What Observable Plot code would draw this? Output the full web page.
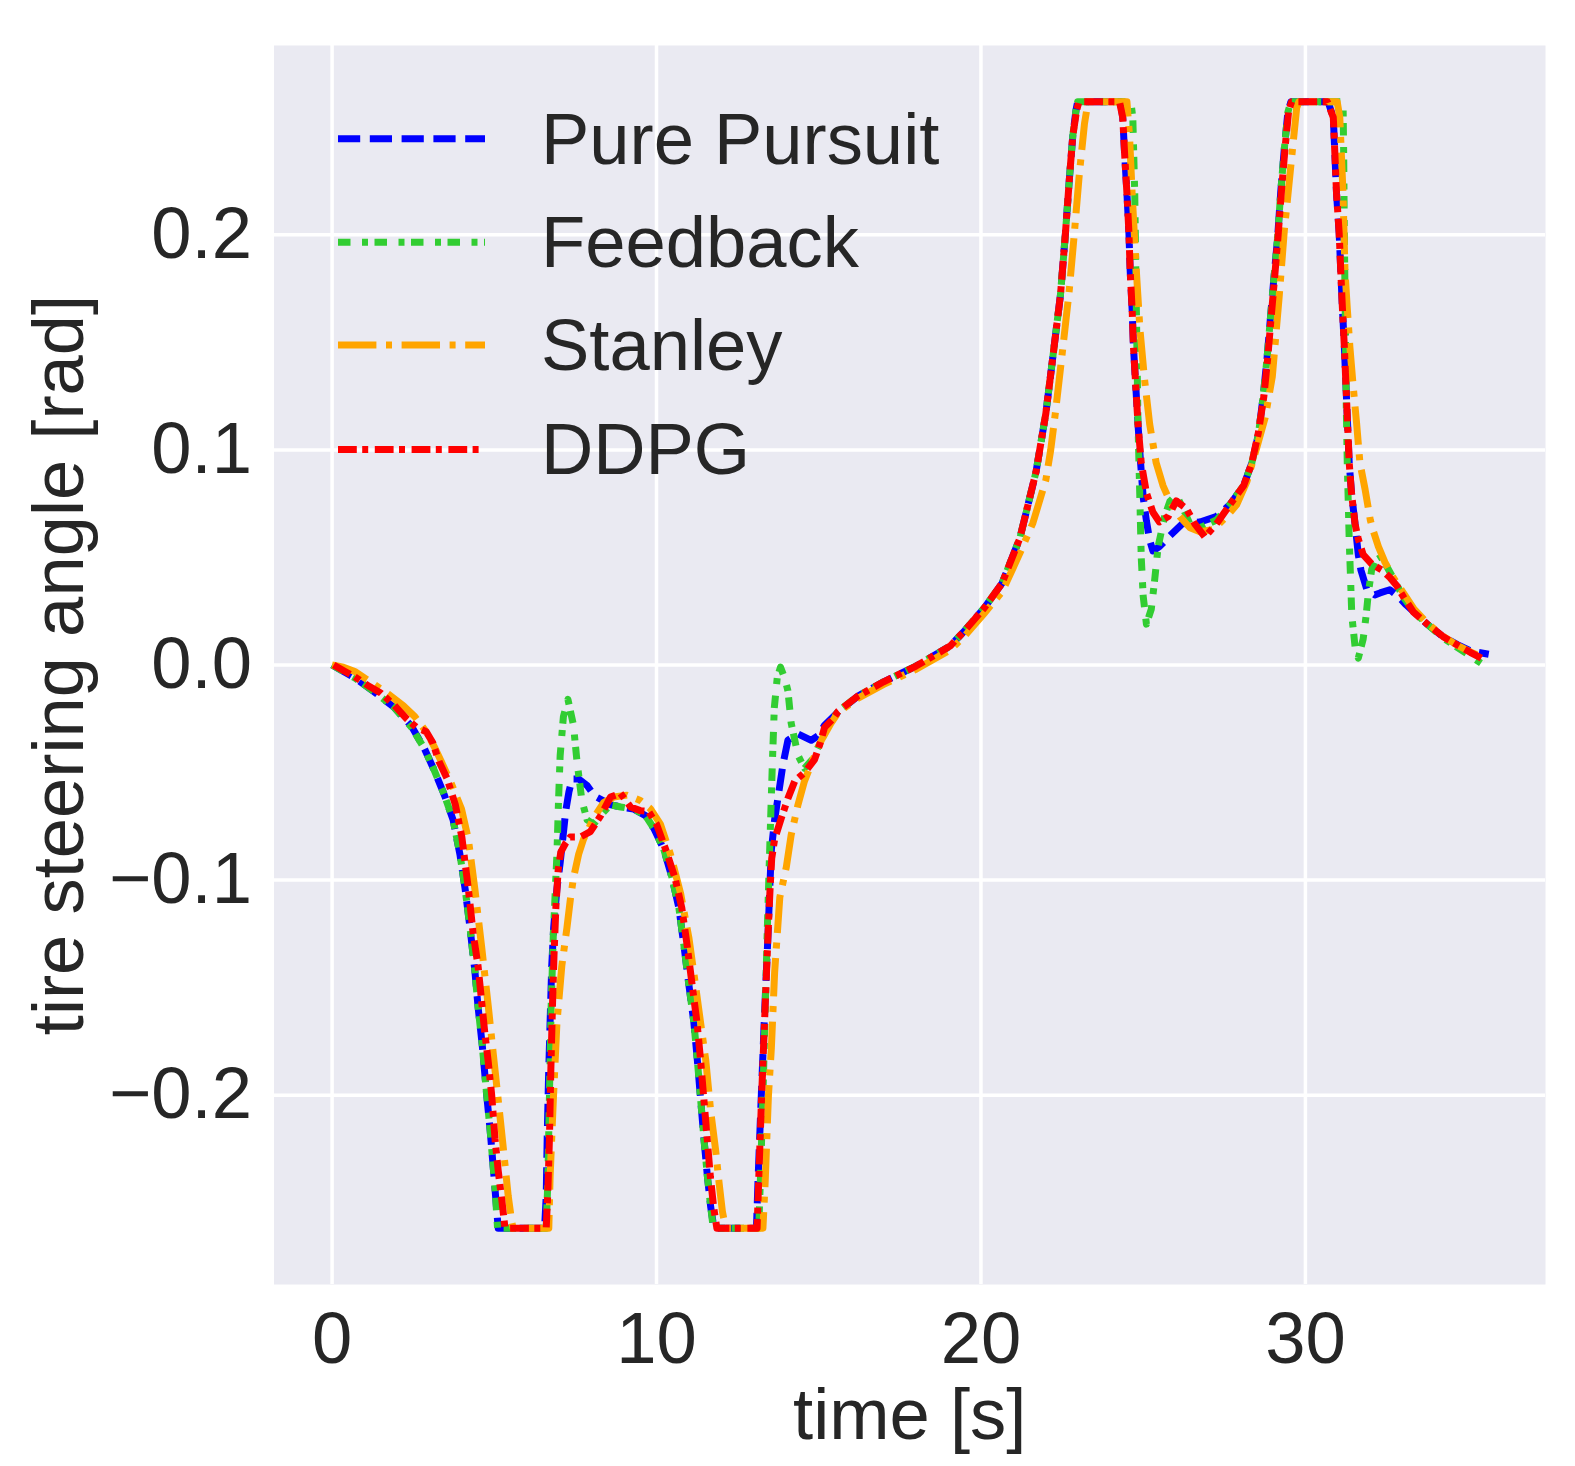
<!DOCTYPE html>
<html>
<head>
<meta charset="utf-8">
<script src="https://cdn.jsdelivr.net/npm/d3@7"></script>
<script src="https://cdn.jsdelivr.net/npm/@observablehq/plot@0.6"></script>
<style>
  html, body { margin: 0; background: white; overflow: hidden; }
  #chart svg { max-width: none; display: block; }
</style>
</head>
<body>
<div id="chart"></div>
<script>
// series names (legend order)
const methods = ["Pure Pursuit", "Feedback", "Stanley", "DDPG"]

// [time s, tire steering angle rad]
const purePursuit = [
  [0,0],[0.7,-0.006],[1.3,-0.0125],[1.9,-0.0195],[2.45,-0.0285],[2.85,-0.039],[3.15,-0.049],[3.45,-0.06],[3.73,-0.072],[3.94,-0.088],[4.1,-0.104],[4.25,-0.122],[4.4,-0.142],[4.5,-0.159],[4.63,-0.177],[4.76,-0.199],[4.87,-0.216],[4.97,-0.234],[5.04,-0.247],[5.12,-0.2618],
  [6.55,-0.2618],[6.6,-0.247],[6.63,-0.22],[6.67,-0.193],[6.72,-0.166],[6.77,-0.14],[6.83,-0.122],[6.93,-0.104],[7.03,-0.092],[7.13,-0.078],[7.2,-0.068],[7.3,-0.059],[7.4,-0.053],[7.6,-0.053],[7.86,-0.056],[8.1,-0.061],[8.6,-0.065],[8.9,-0.066],[9.3,-0.067],[9.66,-0.07],[9.92,-0.076],[10.23,-0.086],[10.48,-0.099],[10.69,-0.113],[10.85,-0.131],[11.0,-0.149],[11.15,-0.166],[11.26,-0.184],[11.36,-0.202],[11.46,-0.22],[11.57,-0.238],[11.67,-0.252],[11.77,-0.2618],
  [13.08,-0.2618],[13.13,-0.239],[13.23,-0.2],[13.33,-0.162],[13.44,-0.124],[13.49,-0.104],[13.54,-0.086],[13.64,-0.072],[13.74,-0.062],[13.9,-0.046],[14.05,-0.035],[14.36,-0.032],[14.77,-0.035],[14.97,-0.033],[15.18,-0.028],[15.59,-0.022],[16.2,-0.0145],[17.0,-0.0078],[18.0,-0.0005],[19.05,0.0088],[19.5,0.016],[20.1,0.0265],[20.65,0.038],[21.2,0.059],[21.7,0.09],[22.0,0.117],[22.23,0.145],[22.45,0.172],[22.6,0.2],[22.72,0.225],[22.83,0.246],[22.93,0.258],[22.98,0.2618],
  [24.3,0.2618],[24.37,0.2545],[24.43,0.237],[24.5,0.219],[24.56,0.201],[24.6,0.183],[24.66,0.165],[24.7,0.148],[24.77,0.13],[24.84,0.112],[24.92,0.094],[25.0,0.078],[25.1,0.067],[25.2,0.058],[25.3,0.053],[25.5,0.055],[25.82,0.06],[26.2,0.0656],[26.75,0.0665],[27.25,0.069],[27.67,0.0745],[28.1,0.0835],[28.35,0.094],[28.55,0.107],[28.7,0.125],[28.82,0.143],[28.92,0.161],[29.03,0.18],[29.14,0.198],[29.24,0.22],[29.35,0.24],[29.46,0.257],[29.55,0.2618],
  [30.7,0.2618],[30.86,0.2545],[30.91,0.237],[30.96,0.219],[31.04,0.201],[31.09,0.183],[31.14,0.166],[31.2,0.148],[31.25,0.13],[31.3,0.112],[31.35,0.094],[31.42,0.08],[31.53,0.0656],[31.63,0.0513],[31.71,0.0442],[31.89,0.0353],[32.14,0.0326],[32.3,0.0335],[32.6,0.035],[32.85,0.032],[33.1,0.028],[33.35,0.0246],[33.75,0.019],[34.25,0.013],[34.7,0.0094],[35.1,0.0065],[35.65,0.005]
]

const feedback = [
  [0,0],[0.7,-0.006],[1.3,-0.0125],[1.9,-0.0195],[2.45,-0.029],[2.85,-0.039],[3.15,-0.049],[3.45,-0.06],[3.73,-0.072],[3.94,-0.088],[4.1,-0.104],[4.25,-0.122],[4.4,-0.142],[4.5,-0.159],[4.63,-0.177],[4.76,-0.199],[4.87,-0.216],[4.97,-0.234],[5.04,-0.247],[5.1,-0.2618],
  [6.6,-0.2618],[6.65,-0.24],[6.7,-0.2],[6.75,-0.16],[6.82,-0.125],[6.93,-0.088],[6.98,-0.063],[7.03,-0.042],[7.13,-0.024],[7.27,-0.016],[7.44,-0.028],[7.55,-0.045],[7.7,-0.063],[7.86,-0.072],[8.06,-0.074],[8.27,-0.07],[8.58,-0.065],[8.9,-0.066],[9.3,-0.067],[9.66,-0.07],[9.92,-0.076],[10.23,-0.086],[10.48,-0.099],[10.69,-0.113],[10.85,-0.131],[11.0,-0.149],[11.15,-0.166],[11.26,-0.184],[11.36,-0.202],[11.46,-0.22],[11.57,-0.238],[11.67,-0.252],[11.75,-0.2618],
  [13.15,-0.2618],[13.2,-0.24],[13.28,-0.2],[13.35,-0.16],[13.42,-0.12],[13.49,-0.085],[13.57,-0.046],[13.63,-0.02],[13.72,-0.006],[13.82,-0.001],[13.95,-0.006],[14.05,-0.012],[14.15,-0.027],[14.36,-0.042],[14.56,-0.048],[14.8,-0.044],[15.05,-0.036],[15.3,-0.028],[15.6,-0.0215],[16.2,-0.0145],[17.0,-0.0078],[18.0,-0.0005],[19.05,0.0088],[19.5,0.016],[20.1,0.0265],[20.65,0.038],[21.2,0.059],[21.7,0.09],[22.0,0.117],[22.23,0.145],[22.45,0.172],[22.6,0.2],[22.72,0.225],[22.83,0.246],[22.93,0.258],[22.98,0.2618],
  [24.62,0.2618],[24.68,0.2545],[24.74,0.219],[24.79,0.165],[24.84,0.112],[24.9,0.076],[24.94,0.05],[25.0,0.032],[25.1,0.019],[25.25,0.026],[25.35,0.039],[25.46,0.055],[25.66,0.069],[25.82,0.076],[26.02,0.079],[26.23,0.0727],[26.44,0.0656],[26.75,0.0638],[27.26,0.0674],[27.67,0.0745],[28.1,0.0835],[28.35,0.094],[28.55,0.107],[28.7,0.125],[28.82,0.143],[28.92,0.161],[29.03,0.18],[29.14,0.198],[29.24,0.22],[29.35,0.24],[29.46,0.257],[29.55,0.2618],
  [31.16,0.2618],[31.18,0.237],[31.2,0.2],[31.23,0.16],[31.26,0.12],[31.29,0.094],[31.32,0.076],[31.35,0.058],[31.39,0.041],[31.43,0.023],[31.53,0.0086],[31.63,0.0032],[31.78,0.012],[31.87,0.0228],[31.94,0.0335],[32.04,0.0442],[32.25,0.052],[32.5,0.046],[32.7,0.0406],[33.0,0.032],[33.35,0.0246],[33.75,0.019],[34.25,0.0125],[34.7,0.008],[35.1,0.004],[35.55,-0.0005]
]

const stanley = [
  [0,0],[0.35,-0.001],[0.7,-0.003],[1.2,-0.008],[1.72,-0.0134],[2.2,-0.019],[2.55,-0.024],[2.9,-0.031],[3.15,-0.038],[3.37,-0.045],[3.7,-0.056],[3.99,-0.067],[4.2,-0.081],[4.4,-0.104],[4.61,-0.131],[4.81,-0.158],[4.97,-0.181],[5.12,-0.202],[5.28,-0.225],[5.43,-0.247],[5.54,-0.259],[5.58,-0.2618],
  [6.68,-0.2618],[6.72,-0.238],[6.82,-0.202],[6.93,-0.1665],[7.08,-0.14],[7.24,-0.122],[7.34,-0.1095],[7.44,-0.099],[7.6,-0.088],[7.75,-0.081],[8.06,-0.0712],[8.37,-0.064],[8.68,-0.0614],[9.09,-0.0605],[9.5,-0.063],[9.81,-0.0668],[10.12,-0.074],[10.43,-0.088],[10.74,-0.106],[11.0,-0.127],[11.2,-0.1487],[11.36,-0.1665],[11.52,-0.184],[11.67,-0.2075],[11.82,-0.2253],[11.93,-0.241],[12.03,-0.254],[12.13,-0.2618],
  [13.28,-0.2618],[13.35,-0.24],[13.45,-0.2],[13.54,-0.178],[13.64,-0.143],[13.8,-0.108],[14.0,-0.094],[14.15,-0.079],[14.36,-0.065],[14.56,-0.054],[14.82,-0.044],[15.08,-0.035],[15.38,-0.027],[15.6,-0.022],[16.2,-0.0155],[17.0,-0.009],[18.0,-0.002],[19.05,0.007],[19.5,0.0135],[20.1,0.024],[20.65,0.034],[21.2,0.052],[21.6,0.066],[22.0,0.086],[22.15,0.1],[22.3,0.118],[22.52,0.147],[22.72,0.174],[22.88,0.201],[23.03,0.228],[23.19,0.2516],[23.3,0.2618],
  [24.5,0.2618],[24.58,0.2456],[24.66,0.219],[24.79,0.183],[24.9,0.156],[25.04,0.133],[25.2,0.112],[25.4,0.094],[25.61,0.0834],[25.82,0.0763],[26.13,0.069],[26.44,0.0638],[26.75,0.062],[27.16,0.063],[27.57,0.069],[27.88,0.0745],[28.19,0.085],[28.5,0.101],[28.76,0.115],[28.98,0.134],[29.19,0.171],[29.35,0.202],[29.57,0.235],[29.73,0.259],[29.8,0.2618],
  [30.98,0.2618],[31.06,0.2545],[31.16,0.219],[31.22,0.183],[31.29,0.166],[31.37,0.148],[31.47,0.13],[31.58,0.112],[31.68,0.094],[31.84,0.0816],[32.0,0.0674],[32.1,0.062],[32.25,0.055],[32.45,0.0478],[32.71,0.0406],[33.02,0.0335],[33.35,0.026],[33.75,0.0195],[34.25,0.0133],[34.7,0.009],[35.1,0.006],[35.55,0.003]
]

const ddpg = [
  [0.05,0],[0.4,-0.003],[0.7,-0.0055],[1.1,-0.0095],[1.5,-0.013],[1.9,-0.0185],[2.3,-0.025],[2.6,-0.029],[2.9,-0.031],[3.1,-0.036],[3.3,-0.045],[3.55,-0.053],[3.8,-0.065],[4.0,-0.08],[4.2,-0.104],[4.35,-0.125],[4.5,-0.14],[4.58,-0.152],[4.7,-0.17],[4.81,-0.184],[4.92,-0.2],[5.02,-0.22],[5.12,-0.235],[5.23,-0.2485],[5.33,-0.2618],
  [6.6,-0.2618],[6.65,-0.245],[6.7,-0.22],[6.74,-0.19],[6.79,-0.16],[6.84,-0.135],[6.9,-0.112],[6.97,-0.095],[7.05,-0.087],[7.19,-0.083],[7.34,-0.08],[7.65,-0.08],[7.96,-0.0775],[8.27,-0.0703],[8.58,-0.0614],[8.89,-0.0597],[9.2,-0.066],[9.5,-0.0677],[9.75,-0.068],[10.0,-0.074],[10.3,-0.0865],[10.57,-0.099],[10.78,-0.113],[10.95,-0.131],[11.1,-0.149],[11.25,-0.1665],[11.36,-0.184],[11.46,-0.202],[11.56,-0.22],[11.66,-0.238],[11.76,-0.252],[11.86,-0.2618],
  [13.1,-0.2618],[13.15,-0.239],[13.24,-0.2],[13.34,-0.162],[13.44,-0.124],[13.5,-0.104],[13.55,-0.09],[13.64,-0.081],[13.85,-0.071],[14.05,-0.062],[14.26,-0.054],[14.56,-0.05],[14.87,-0.044],[15.03,-0.037],[15.18,-0.029],[15.44,-0.025],[15.6,-0.0215],[16.2,-0.0145],[17.0,-0.0078],[18.0,-0.0005],[19.05,0.0088],[19.5,0.016],[20.1,0.0265],[20.65,0.038],[21.2,0.059],[21.7,0.09],[22.0,0.117],[22.23,0.145],[22.45,0.172],[22.6,0.2],[22.72,0.225],[22.83,0.246],[22.95,0.258],[23.02,0.2618],
  [24.27,0.2618],[24.37,0.2545],[24.43,0.237],[24.5,0.219],[24.56,0.201],[24.6,0.183],[24.66,0.165],[24.7,0.148],[24.77,0.13],[24.84,0.112],[24.94,0.094],[25.1,0.08],[25.3,0.071],[25.5,0.0665],[25.77,0.069],[26.02,0.0763],[26.33,0.0727],[26.59,0.0656],[26.9,0.0595],[27.26,0.0656],[27.67,0.0745],[28.1,0.0835],[28.35,0.094],[28.55,0.108],[28.72,0.125],[28.84,0.143],[28.94,0.161],[29.05,0.18],[29.15,0.198],[29.26,0.22],[29.37,0.24],[29.48,0.257],[29.57,0.2618],
  [30.68,0.2618],[30.86,0.2545],[30.91,0.237],[30.96,0.219],[31.04,0.201],[31.09,0.183],[31.14,0.166],[31.2,0.148],[31.25,0.13],[31.3,0.112],[31.35,0.094],[31.42,0.08],[31.53,0.0656],[31.63,0.0585],[31.78,0.0513],[32.04,0.047],[32.35,0.0442],[32.61,0.0406],[32.81,0.037],[33.02,0.0317],[33.33,0.0246],[33.74,0.0192],[34.26,0.013],[34.67,0.0094],[35.08,0.0059],[35.45,0.003]
]

// axis ticks
const xTicks = [0, 10, 20, 30]
const yTicks = [-0.2, -0.1, 0, 0.1, 0.2]

// line styles (matplotlib-like dash patterns)
const styles = {
  "Pure Pursuit": {stroke: "#0000ff", dash: "22.2,9.6"},
  "Feedback":     {stroke: "#32cd32", dash: "12.5,11.5,6,6.5"},
  "Stanley":      {stroke: "#ffa500", dash: "38.4,9.6,6,9.6"},
  "DDPG":         {stroke: "#ff0000", dash: "18.8,5.4,6,6.6"}
}
const lineWidth = 7

const values = [purePursuit, feedback, stanley, ddpg]
const rows = methods.flatMap((m, i) => values[i].map(([t, v]) => ({method: m, t, v})))

const font = "'Liberation Sans', Arial, sans-serif"
const ink = "#262626"
const fs = 72.4

let chart = Plot.plot({
  width: 1575,
  height: 1466,
  marginLeft: 273.5,
  marginRight: 30,
  marginTop: 45,
  marginBottom: 182,
  style: {fontFamily: font, fontSize: fs + "px", color: ink, background: "white"},
  x: {domain: [-1.79, 37.4], ticks: xTicks},
  y: {domain: [-0.288, 0.288], ticks: yTicks},
  marks: [
    Plot.frame({fill: "#eaeaf2", stroke: null}),
    Plot.gridX(xTicks, {stroke: "white", strokeOpacity: 1, strokeWidth: 3.5}),
    Plot.gridY(yTicks, {stroke: "white", strokeOpacity: 1, strokeWidth: 3.5}),
    Plot.axisX(xTicks, {tickSize: 0, tickPadding: 27, label: null, fontSize: fs, fill: ink}),
    Plot.axisY(yTicks, {tickSize: 0, tickPadding: 22, label: null, fontSize: fs, fill: ink,
      tickFormat: d3.format(".1f")}),
    ...methods.map(m => Plot.line(rows.filter(d => d.method === m), {
      x: "t",
      y: "v",
      stroke: styles[m].stroke,
      strokeWidth: lineWidth,
      strokeDasharray: styles[m].dash,
      strokeLinecap: "butt",
      strokeLinejoin: "round",
      curve: "linear"
    })),
    Plot.text(["time [s]"], {frameAnchor: "bottom", dy: 154, lineAnchor: "bottom",
      textAnchor: "middle", fontSize: fs, fill: ink}),
    Plot.text(["tire steering angle [rad]"], {frameAnchor: "left", dx: -191, rotate: -90,
      textAnchor: "middle", lineAnchor: "bottom", fontSize: fs, fill: ink})
  ]
})

// legend drawn inside the plot area, upper left
const legendY = [138.7, 242.3, 344.9, 449.4]
const legend = d3.select(chart).append("g").attr("text-anchor", "start")
methods.forEach((m, i) => {
  legend.append("line")
    .attr("x1", 338).attr("x2", 485)
    .attr("y1", legendY[i]).attr("y2", legendY[i])
    .attr("stroke", styles[m].stroke)
    .attr("stroke-width", lineWidth)
    .attr("stroke-dasharray", styles[m].dash)
  legend.append("text")
    .attr("x", 541).attr("y", legendY[i] + 25)
    .attr("text-anchor", "start")
    .attr("fill", ink)
    .attr("font-family", font)
    .attr("font-size", fs)
    .text(m)
})

d3.select('#chart').append(() => chart)
</script>
</body>
</html>
